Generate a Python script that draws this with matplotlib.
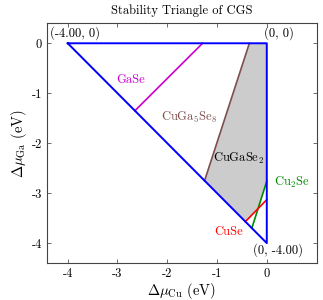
import matplotlib
matplotlib.use("Agg")
from matplotlib import pyplot as plt
from matplotlib.patches import Polygon

plt.rcParams["font.family"] = "serif"
plt.rcParams["font.serif"] = ["cmr10", "DejaVu Serif"]
plt.rcParams["mathtext.fontset"] = "cm"
plt.rcParams["axes.unicode_minus"] = False
plt.rcParams["axes.formatter.use_mathtext"] = True

# triangle corners (mu_Cu, mu_Ga)
tri_x = [-4.0, 0.0, 0.0, -4.0]
tri_y = [0.0, 0.0, -4.0, 0.0]

# competing phase boundaries
gase_x = [-1.29, -2.65]
gase_y = [0.0, -1.35]
cuga5se8_x = [-0.35, -1.25]
cuga5se8_y = [0.0, -2.75]
cu2se_x = [0.0, -0.30]
cu2se_y = [-2.76, -3.70]
cuse_x = [-0.43, 0.0]
cuse_y = [-3.57, -3.13]

# stable region of CuGaSe2
stable_x = [-0.35, 0.0, 0.0, -0.175, -0.43, -1.25]
stable_y = [0.0, 0.0, -2.76, -3.31, -3.57, -2.75]

fig = plt.figure(figsize=(3.23, 3.0), dpi=100)
ax = fig.add_axes([0.145, 0.123, 0.835, 0.801])

ax.add_patch(Polygon(list(zip(stable_x, stable_y)), closed=True,
                     facecolor="#cccccc", edgecolor="none", zorder=1))
ax.plot(tri_x, tri_y, color="#0000ff", lw=1.4, zorder=3)
ax.plot(gase_x, gase_y, color="#cc00cc", lw=1.2, zorder=2)
ax.plot(cuga5se8_x, cuga5se8_y, color="#7f4f4f", lw=1.2, zorder=2)
ax.plot(cu2se_x, cu2se_y, color="#008800", lw=1.2, zorder=2)
ax.plot(cuse_x, cuse_y, color="#ff0000", lw=1.2, zorder=2)

fs = 9
ax.text(-4.35, 0.2, "(-4.00, 0)", fontsize=fs, ha="left", va="center")
ax.text(-0.05, 0.2, "(0, 0)", fontsize=fs, ha="left", va="center")
ax.text(-0.27, -4.15, "(0, -4.00)", fontsize=fs, ha="left", va="center")
ax.text(-2.73, -0.74, "GaSe", color="#cc00cc", fontsize=fs, ha="center", va="center")
ax.text(-1.55, -1.48, r"CuGa$_5$Se$_8$", color="#7f4f4f", fontsize=fs, ha="center", va="center")
ax.text(-0.57, -2.3, r"CuGaSe$_2$", color="black", fontsize=fs, ha="center", va="center")
ax.text(0.15, -2.79, r"Cu$_2$Se", color="#008800", fontsize=fs, ha="left", va="center")
ax.text(-0.77, -3.77, "CuSe", color="#ff0000", fontsize=fs, ha="center", va="center")

ax.set_xlim(-4.42, 1.0)
ax.set_ylim(-4.4, 0.41)
ax.set_xticks([-4, -3, -2, -1, 0])
ax.set_yticks([-4, -3, -2, -1, 0])
ax.set_xticklabels(["-4", "-3", "-2", "-1", "0"])
ax.set_yticklabels(["-4", "-3", "-2", "-1", "0"])
ax.tick_params(direction="in", length=3, width=0.6, color="#555555",
               top=True, right=True, labelsize=9)
for s in ax.spines.values():
    s.set_color("#444444")
    s.set_linewidth(0.8)
ax.set_xlabel(r"$\Delta\mu_{\rm Cu}$ (eV)", fontsize=10.5, labelpad=1)
ax.set_ylabel(r"$\Delta\mu_{\rm Ga}$ (eV)", fontsize=10.5, labelpad=2)
ax.set_title("Stability Triangle of CGS", fontsize=9)

fig.savefig("out.png", dpi=100)
